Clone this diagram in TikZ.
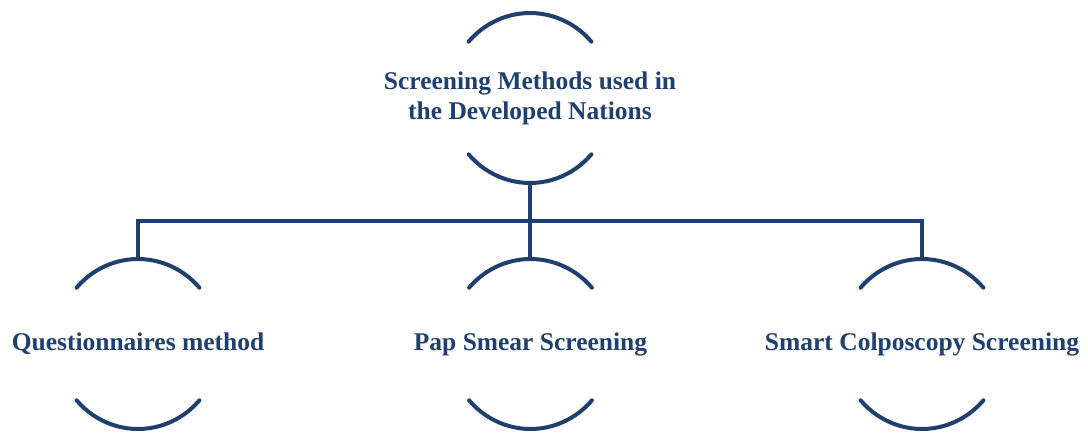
\documentclass[tikz,border=0pt]{standalone}
\usepackage{fontspec}
\setmainfont{Liberation Serif}
\definecolor{navy}{HTML}{1F3F6E}
\begin{document}
\begin{tikzpicture}[x=1pt,y=1pt,
  ring/.style={circle,minimum size=170pt,inner sep=0pt,outer sep=0pt},
  caption/.style={text=navy,font=\bfseries\fontsize{25.5}{30}\selectfont,align=center,inner sep=0pt},
  stroke/.style={draw=navy,line width=4pt},
  arcline/.style={stroke,line cap=round}
]
\useasboundingbox (0,0) rectangle (1088,432);

% oval outlines (only their upper and lower arcs are drawn)
\node[ring] (top) at (530,334) {};
\node[ring] (q)   at (138,88) {};
\node[ring] (p)   at (530.5,88) {};
\node[ring] (s)   at (922,88) {};

\foreach \n in {top,q,p,s}{
  \draw[arcline] ([shift={(41.5:82pt and 85pt)}]\n.center)
    arc[start angle=41.5,end angle=138.5,x radius=82pt,y radius=85pt];
  \draw[arcline] ([shift={(221.5:82pt and 85pt)}]\n.center)
    arc[start angle=221.5,end angle=318.5,x radius=82pt,y radius=85pt];
}

% captions
\node[caption] (toptext) at (top) {Screening Methods used in\\the Developed Nations};
\node[caption] (qtext) at (q) {Questionnaires method};
\node[caption] (ptext) at (p) {Pap Smear Screening};
\node[caption] (stext) at (s) {Smart Colposcopy Screening};

% tree connectors
\coordinate (bus) at (530,211);
\draw[stroke] (q.north) |- (s.north |- bus) -- (s.north);
\draw[stroke] (top.south) -- (top.south |- p.north);
\end{tikzpicture}
\end{document}
